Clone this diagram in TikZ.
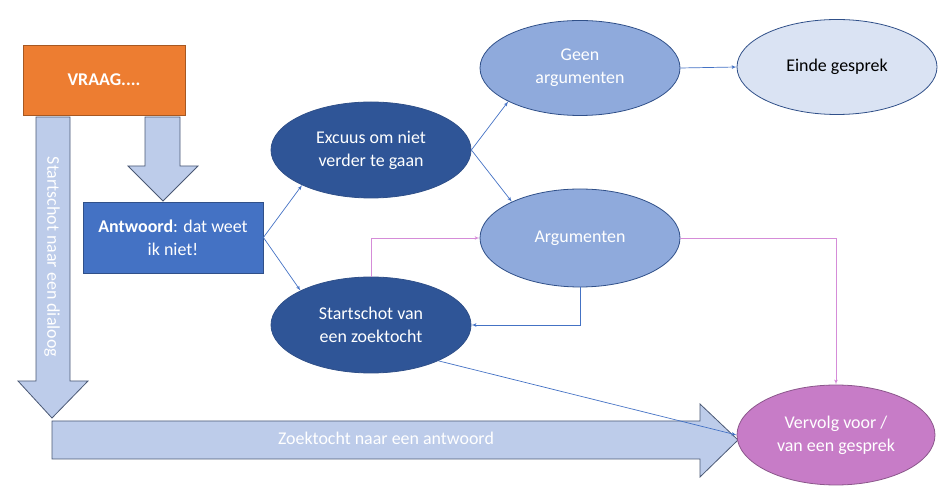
\documentclass[tikz,border=0pt]{standalone}
\usepackage{fontspec}
\setmainfont{Carlito}
\usepackage[x11names, svgnames, rgb]{xcolor}
\usetikzlibrary{arrows,shapes}
\definecolor{vraagoranje}{HTML}{ED7D31}
\definecolor{antwblauw}{HTML}{4472C4}
\definecolor{donkerblauw}{HTML}{2F5597}
\definecolor{middenblauw}{HTML}{8FAADC}
\definecolor{lichtblauw}{HTML}{DAE3F3}
\definecolor{pijlblauw}{HTML}{BDCCEA}
\definecolor{randgrijs}{HTML}{4A5874}
\definecolor{paars}{HTML}{C77CC7}
\definecolor{roze}{HTML}{D58CD8}

\begin{document}
\begin{tikzpicture}[>=latex',line join=miter,
  every node/.style={font=\fontsize{18}{23}\selectfont,align=center},
  blok/.style={draw=#1!70!black,line width=0.8bp,inner sep=0pt},
  ovaal/.style={draw=antwblauw!70!black,line width=0.8bp,ellipse,inner sep=0pt,
    minimum width=200bp,minimum height=96bp},
  pijl/.style={draw=randgrijs,line width=0.8bp,fill=pijlblauw},
  lijn/.style={->,draw=antwblauw,line width=0.7bp},
  roze lijn/.style={->,draw=roze,line width=0.7bp}]
\useasboundingbox (0bp,0bp) rectangle (944bp,491bp);
%% blokpijlen
\draw [pijl] (36bp,374bp) -- (70bp,374bp) -- (70bp,110bp) -- (88bp,110bp)
  -- (52bp,73bp) -- (18bp,110bp) -- (36bp,110bp) -- cycle;
\draw [pijl] (52bp,70bp) -- (700bp,70bp) -- (700bp,87bp) -- (738bp,51bp)
  -- (700bp,14bp) -- (700bp,32bp) -- (52bp,32bp) -- cycle;
\draw [pijl] (145bp,374bp) -- (180bp,374bp) -- (180bp,325bp) -- (198bp,325bp)
  -- (163bp,290bp) -- (128bp,325bp) -- (145bp,325bp) -- cycle;
\node (dialoog) at (52bp,234bp) [rotate=-90,text=white] {Startschot naar een dialoog};
\node (zoektocht) at (386bp,53bp) [text=white] {Zoektocht naar een antwoord};
%% knopen
\node (vraag) at (104bp,411bp) [blok=vraagoranje,fill=vraagoranje,text=white,
  minimum width=162bp,minimum height=70bp] {\textbf{VRAAG....}};
\node (antwoord) at (173bp,253.5bp) [blok=antwblauw,fill=antwblauw,text=white,
  minimum width=180bp,minimum height=71bp] {\textbf{Antwoord}: dat weet\\ik niet!};
\node (excuus) at (371bp,341bp) [ovaal,fill=donkerblauw,text=white] {Excuus om niet\\verder te gaan};
\node (startschot) at (371bp,166bp) [ovaal,fill=donkerblauw,text=white] {Startschot van\\een zoektocht};
\node (geen) at (580bp,423bp) [ovaal,fill=middenblauw,text=white,minimum height=95bp] {Geen\\argumenten};
\node (argumenten) at (580bp,253bp) [ovaal,fill=middenblauw,text=white,minimum height=98bp] {Argumenten};
\node (einde) at (837bp,424bp) [ovaal,fill=lichtblauw,minimum height=95bp] {Einde gesprek};
\node (vervolg) at (836bp,56bp) [ovaal,draw=paars!70!black,fill=paars,text=white,
  minimum width=198bp,minimum height=100bp] {Vervolg voor /\\van een gesprek};
%% verbindingen
\draw [lijn] (antwoord.east) -- (excuus.207);
\draw [lijn] (antwoord.east) -- (startschot.154);
\draw [lijn] (excuus.east) -- (geen.205);
\draw [lijn] (excuus.east) -- (argumenten.152);
\draw [lijn] (geen.east) -- (einde.west);
\draw [lijn] (argumenten.south) |- (startschot.east);
\draw [roze lijn] (startschot.north) |- (argumenten.west);
\draw [roze lijn] (argumenten.east) -| (vervolg.north);
\draw [lijn] (startschot.332) -- (vervolg.west);
%
\end{tikzpicture}
\end{document}
